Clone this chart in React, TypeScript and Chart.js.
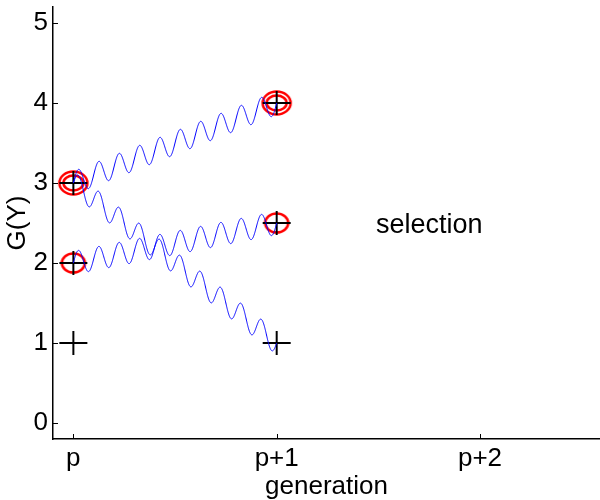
import { useEffect, useRef } from 'react';
import { Chart, registerables } from 'chart.js';

Chart.register(...registerables);

// ---- data ----
const generationLabels = ['p', 'p+1', 'p+2'];
const generationTicks = [0, 1, 2];
const gTicks = [0, 1, 2, 3, 4, 5];

// every individual (black crosses)
const individualX = [0, 0, 0, 1, 1, 1];
const individualY = [1, 2, 3, 4, 2.5, 1];

// selected once (single red ring)
const selectedOnceX = [0, 1];
const selectedOnceY = [2, 2.5];

// selected twice (double red ring)
const selectedTwiceX = [0, 1];
const selectedTwiceY = [3, 4];

// lineage links parent -> child (wavy blue lines)
const parentX = [0, 0, 0];
const parentY = [3, 3, 2];
const childX = [1, 1, 1];
const childY = [4, 1, 2.5];

const annotationText = 'selection';
const annotationX = 1.75;
const annotationY = 2.5;

// ---- styles ----
const FONT = '"Liberation Sans", Arial, Helvetica, sans-serif';
const FONT_SIZE = 26;
const WAVE_CYCLES = 10;
const WAVE_AMPLITUDE = 0.145;

function makeCross(hw: number, hh: number, lw: number, color: string) {
  const c = document.createElement('canvas');
  c.width = Math.ceil(hw * 2 + 2);
  c.height = Math.ceil(hh * 2 + 2);
  const ctx = c.getContext('2d')!;
  ctx.strokeStyle = color;
  ctx.lineWidth = lw;
  const cx = c.width / 2;
  const cy = c.height / 2;
  ctx.beginPath();
  ctx.moveTo(cx - hw, cy);
  ctx.lineTo(cx + hw, cy);
  ctx.moveTo(cx, cy - hh);
  ctx.lineTo(cx, cy + hh);
  ctx.stroke();
  return c;
}

function makeRings(rings: Array<[number, number]>, lw: number, color: string) {
  const maxRx = Math.max(...rings.map((r) => r[0]));
  const maxRy = Math.max(...rings.map((r) => r[1]));
  const c = document.createElement('canvas');
  c.width = Math.ceil(maxRx * 2 + lw + 4);
  c.height = Math.ceil(maxRy * 2 + lw + 4);
  const ctx = c.getContext('2d')!;
  ctx.strokeStyle = color;
  ctx.lineWidth = lw;
  for (const [rx, ry] of rings) {
    ctx.beginPath();
    ctx.ellipse(c.width / 2, c.height / 2, rx, ry, 0, 0, Math.PI * 2);
    ctx.stroke();
  }
  return c;
}

export default function App() {
  const ref = useRef<HTMLCanvasElement>(null);

  useEffect(() => {
    if (!ref.current) return;
    const crossImg = makeCross(14, 12, 2, '#000000');
    const onceImg = makeRings([[11.5, 9.5]], 2.5, '#ff0000');
    const twiceImg = makeRings([[14, 11.5], [10, 7.5]], 2.5, '#ff0000');

    const font = { family: FONT, size: FONT_SIZE };

    const lineagePlugin = {
      id: 'lineage',
      afterDatasetsDraw(chart: any) {
        const { ctx, scales } = chart;
        const xs = scales.x;
        const ys = scales.y;
        ctx.save();
        ctx.strokeStyle = '#0000ff';
        ctx.lineWidth = 1;
        const N = 800;
        for (let i = 0; i < parentX.length; i++) {
          ctx.beginPath();
          for (let k = 0; k <= N; k++) {
            const t = k / N;
            const xv = parentX[i] + (childX[i] - parentX[i]) * t;
            const yv =
              parentY[i] + (childY[i] - parentY[i]) * t +
              WAVE_AMPLITUDE * Math.sin(2 * Math.PI * WAVE_CYCLES * t);
            const px = xs.getPixelForValue(xv);
            const py = ys.getPixelForValue(yv);
            if (k === 0) ctx.moveTo(px, py);
            else ctx.lineTo(px, py);
          }
          ctx.stroke();
        }
        ctx.restore();
      },
    };

    const decorPlugin = {
      id: 'decor',
      afterDraw(chart: any) {
        const { ctx, scales, chartArea } = chart;
        const xs = scales.x;
        const ys = scales.y;
        ctx.save();
        ctx.strokeStyle = '#000000';
        ctx.lineWidth = 1;
        ctx.beginPath();
        for (const v of generationTicks) {
          const px = Math.round(xs.getPixelForValue(v)) + 0.5;
          ctx.moveTo(px, chartArea.bottom);
          ctx.lineTo(px, chartArea.bottom - 5);
        }
        for (const v of gTicks) {
          const py = Math.round(ys.getPixelForValue(v)) + 0.5;
          ctx.moveTo(chartArea.left, py);
          ctx.lineTo(chartArea.left + 5, py);
        }
        ctx.stroke();
        ctx.fillStyle = '#000000';
        ctx.font = `${FONT_SIZE + 1}px ${FONT}`;
        ctx.textAlign = 'center';
        ctx.textBaseline = 'middle';
        ctx.fillText(
          annotationText,
          xs.getPixelForValue(annotationX),
          ys.getPixelForValue(annotationY) + 3
        );
        ctx.restore();
      },
    };

    const chart = new Chart(ref.current, {
      type: 'scatter',
      data: {
        datasets: [
          {
            label: 'individuals',
            data: individualX.map((x, i) => ({ x, y: individualY[i] })),
            pointStyle: crossImg as any,
            pointRadius: 12,
            order: 0,
          },
          {
            label: 'selected twice',
            data: selectedTwiceX.map((x, i) => ({ x, y: selectedTwiceY[i] })),
            pointStyle: twiceImg as any,
            pointRadius: 14,
            order: 1,
          },
          {
            label: 'selected once',
            data: selectedOnceX.map((x, i) => ({ x, y: selectedOnceY[i] })),
            pointStyle: onceImg as any,
            pointRadius: 12,
            order: 2,
          },
        ],
      },
      options: {
        animation: false,
        responsive: false,
        maintainAspectRatio: false,
        layout: { autoPadding: false, padding: { top: 7, right: 0, bottom: 0, left: 0 } },
        plugins: {
          legend: { display: false },
          tooltip: { enabled: false },
        },
        scales: {
          x: {
            type: 'linear',
            min: -0.1,
            max: 2.59,
            afterBuildTicks: (s: any) => {
              s.ticks = generationTicks.map((v) => ({ value: v }));
            },
            afterFit: (s: any) => {
              s.height = 61;
              s.paddingLeft = 0;
              s.paddingRight = 0;
            },
            ticks: {
              callback: (v: any) => {
                const i = generationTicks.indexOf(Number(v));
                return i >= 0 ? generationLabels[i] : '';
              },
              font,
              color: '#000000',
              padding: 4,
              maxRotation: 0,
              autoSkip: false,
            },
            grid: { display: false, drawTicks: false },
            border: { display: true, color: '#000000', width: 1.5 },
            title: {
              display: true,
              text: 'generation',
              font: { family: FONT, size: FONT_SIZE, lineHeight: 1.05 },
              color: '#000000',
              padding: 0,
            },
          },
          y: {
            type: 'linear',
            min: -0.2,
            max: 5.2,
            afterBuildTicks: (s: any) => {
              s.ticks = gTicks.map((v) => ({ value: v }));
            },
            afterFit: (s: any) => {
              s.width = 53;
              s.paddingTop = 0;
              s.paddingBottom = 0;
            },
            ticks: {
              callback: (v: any) => String(v),
              font,
              color: '#000000',
              padding: 5,
            },
            grid: { display: false, drawTicks: false },
            border: { display: true, color: '#000000', width: 1.5 },
            title: {
              display: true,
              text: 'G(Y)',
              font: { family: FONT, size: FONT_SIZE, lineHeight: 1.35 },
              color: '#000000',
              padding: 0,
            },
          },
        },
      },
      plugins: [lineagePlugin, decorPlugin],
    });
    return () => chart.destroy();
  }, []);

  return (
    <div style={{ position: 'absolute', left: 0, top: 0, width: 600, height: 500, background: '#fff' }}>
      <canvas ref={ref} width={600} height={500} />
    </div>
  );
}
